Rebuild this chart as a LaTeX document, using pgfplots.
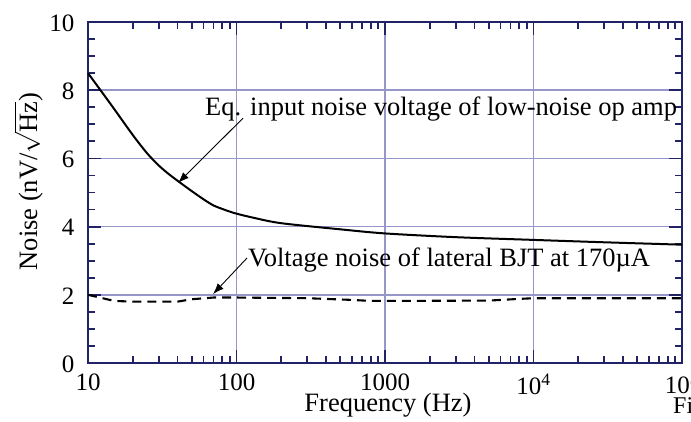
\documentclass[border=0pt]{standalone}
\usepackage{pgfplots}
\pgfplotsset{compat=1.18}
\usepackage{fontspec}
\setmainfont{Liberation Serif}
\usetikzlibrary{arrows.meta}
\definecolor{axnavy}{RGB}{34,34,102}
\definecolor{gridc}{RGB}{150,150,200}
\begin{document}
\begin{tikzpicture}
\begin{axis}[
  scale only axis,
  width=594bp, height=341bp,
  xmode=log, xmin=10, xmax=100000,
  ymin=0, ymax=10,
  ytick={0,2,4,6,8,10},
  minor y tick num=3,
  xtick={10,100,1000,10000,100000},
  xticklabels={10,100,1000,10\textsuperscript{4},10\textsuperscript{5}},
  grid=major,
  major grid style={gridc, line width=1.6bp},
  axis line style={axnavy, line width=2.4bp},
  every tick/.style={axnavy, line width=1.8bp},
  major tick length=13bp,
  minor tick length=7bp,
  tick align=inside,
  xticklabel style={font=\fontsize{25bp}{28bp}\selectfont, yshift=-7bp},
  yticklabel style={font=\fontsize{25bp}{28bp}\selectfont, xshift=-10bp, yshift=-1bp},
  /pgf/number format/assume math mode=true,
  every axis x label/.style={at={(rel axis cs:0.5,0)}, anchor=center, yshift=-42bp, xshift=3bp, font=\fontsize{26.5bp}{30bp}\selectfont},
  every axis y label/.style={at={(rel axis cs:-0.1,0.532)}, rotate=90, anchor=center, font=\fontsize{26.5bp}{30bp}\selectfont},
  xlabel={Frequency (Hz)},
  ylabel={Noise (nV/$\sqrt{\mbox{Hz}}$)},
  clip=false,
]
\addplot[black, line width=2bp, smooth, tension=0.5] coordinates {
 (10,8.5) (12,8.03) (15,7.45) (20,6.69) (25,6.15) (30,5.79) (35,5.54) (42,5.28)
 (50,5.04) (60,4.8) (70,4.62) (80,4.52) (90,4.44) (100,4.38) (130,4.26)
 (200,4.10) (500,3.92) (1000,3.80) (3000,3.69) (10000,3.61) (30000,3.54) (100000,3.47)};
\addplot[black, line width=2.1bp, dash pattern=on 9bp off 6bp] coordinates {
 (10,2.0) (12,1.92) (15,1.82) (20,1.8) (35,1.8) (40,1.8) (50,1.87) (70,1.92)
 (100,1.92) (300,1.9) (600,1.85) (800,1.82) (1000,1.82) (5000,1.83) (8000,1.88)
 (10000,1.9) (100000,1.9)};
\draw[black, line width=0.9bp, -{Latex[length=11bp,width=8bp]}] (axis cs:110.6,7.18) -- (axis cs:40.4,5.28);
\draw[black, line width=0.9bp, -{Latex[length=11bp,width=8bp]}] (axis cs:117.8,3.08) -- (axis cs:69.5,2.02);
\node[anchor=base west, inner sep=0pt, font=\fontsize{26.5bp}{30bp}\selectfont] at (axis cs:61.4,7.27) {Eq. input noise voltage of low-noise op amp};
\node[anchor=base west, inner sep=0pt, font=\fontsize{26.5bp}{30bp}\selectfont] at (axis cs:119.4,2.84) {Voltage noise of lateral BJT at 170µA};
\end{axis}
\node[anchor=base west, inner sep=0pt, font=\fontsize{24bp}{28bp}\selectfont] at ([xshift=-9bp,yshift=-50bp]current axis.south east) {Figure};
\pgfresetboundingbox
\path[use as bounding box] ([xshift=-88bp,yshift=-58bp]current axis.south west) rectangle ([xshift=9bp,yshift=22bp]current axis.north east);
\end{tikzpicture}
\end{document}
